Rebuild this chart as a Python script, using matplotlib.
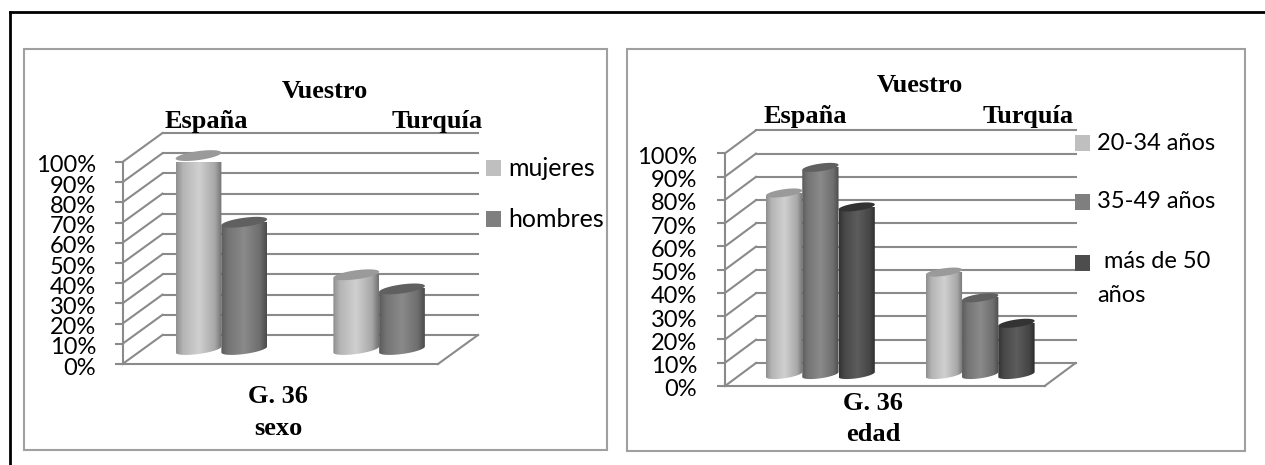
import numpy as np
import matplotlib
matplotlib.use("Agg")
from matplotlib import pyplot as plt
from matplotlib.colors import to_rgb
from matplotlib.lines import Line2D
from matplotlib.patches import Polygon, Rectangle
from matplotlib.path import Path
from matplotlib.transforms import Affine2D

W, H = 1265, 465

categories = ["España", "Turquía"]
ticks = [0, 10, 20, 30, 40, 50, 60, 70, 80, 90, 100]

sexo_labels = ["mujeres", "hombres"]
sexo_values = [[96, 37], [63, 30]]

edad_labels = ["20-34 años", "35-49 años", "más de 50 años"]
edad_values = [[78, 44], [89, 33], [72, 22]]

# body gradient (5 stops), top ellipse, legend swatch
light = (["#8f8f8f", "#b5b5b5", "#d0d0d0", "#a8a8a8", "#737373"], "#9a9a9a", "#bfbfbf")
mid = (["#5c5c5c", "#747474", "#8a8a8a", "#6e6e6e", "#4c4c4c"], "#606060", "#7f7f7f")
dark = (["#333333", "#484848", "#5c5c5c", "#454545", "#2c2c2c"], "#333333", "#4d4d4d")
stops = [0, 0.15, 0.5, 0.85, 1]

GRID = "#8a8a8a"
SERIF = "Liberation Serif"
SANS = "Lato"
BOLD = dict(family=SERIF, weight="bold", fontsize=19, ha="center", va="baseline")

fig = plt.figure(figsize=(W / 100, H / 100), dpi=100)


def px_text(x, y, s, **kw):
    fig.text(x / W, 1 - y / H, s, **kw)


def px_box(x0, y0, x1, y1, color, lw):
    fig.add_artist(Rectangle((x0 / W, 1 - y1 / H), (x1 - x0) / W, (y1 - y0) / H,
                             transform=fig.transFigure, fill=False, ec=color, lw=lw))


def cylinder(ax, x, base, w, val, ry, shear, style):
    rgb = np.array([to_rgb(c) for c in style[0]])
    t = np.linspace(0, 1, 64)
    grad = np.stack([np.interp(t, stops, rgb[:, i]) for i in range(3)], axis=-1)[np.newaxis]
    im = ax.imshow(grad, extent=(x - w / 2, x + w / 2, base - ry - abs(shear), base + val),
                   aspect="auto", zorder=4, interpolation="bilinear")
    # round bottom, flat top; the top ellipse covers the flat edge
    a = np.linspace(np.pi, 2 * np.pi, 40)
    xs = x + np.cos(a) * w / 2
    ys = base + np.sin(a) * ry + np.cos(a) * shear
    verts = list(zip(xs, ys)) + [(xs[-1], base + val + shear), (xs[0], base + val - shear), (xs[0], ys[0])]
    im.set_clip_path(Path(verts), ax.transData)
    a = np.linspace(0, 2 * np.pi, 60)
    top = np.column_stack([x + np.cos(a) * w / 2,
                           base + val + np.sin(a) * ry + np.cos(a) * shear])
    ax.add_patch(Polygon(top, fc=style[1], ec="none", zorder=5, clip_on=False))


def chart(front, depth, values, width, ry_px, shear_px, pad, styles):
    # front = left, right, y of 0%, y of 100% (pixels)
    x0, x1, y0, y100 = front
    ax = fig.add_axes([x0 / W, 1 - y0 / H, (x1 - x0) / W, (y0 - y100) / H])
    ax.patch.set_alpha(0)
    kx, ky = 2 / (x1 - x0), 100 / (y0 - y100)
    dx, dy = depth[0] * kx, depth[1] * ky

    for v in ticks:
        ax.plot([dx, 2 + dx], [v + dy, v + dy], color=GRID, lw=1.5, zorder=1, clip_on=False)
        ax.plot([0, dx], [v, v + dy], color=GRID, lw=1.5, zorder=1, clip_on=False)
    ax.plot([2, 2 + dx], [0, dy], color=GRID, lw=1.5, zorder=1, clip_on=False)

    n = len(values)
    for c in range(2):
        for s in range(n):
            x = c + 0.5 + dx / 2 + (s - (n - 1) / 2) * width
            cylinder(ax, x, dy / 2, width, values[s][c], ry_px * ky, shear_px * ky, styles[s])

    ax.set_xlim(0, 2)
    ax.set_ylim(0, 100)
    ax.set_yticks(ticks)
    ax.set_yticklabels([f"{v}%" for v in ticks], family=SANS, fontsize=17)
    ax.tick_params(axis="y", length=6, width=1.5, color=GRID, pad=pad)
    for lbl in ax.get_yticklabels():
        lbl.set_transform(lbl.get_transform() + Affine2D().translate(0, -2))
    ax.set_xticks([])
    for name in ["top", "right"]:
        ax.spines[name].set_visible(False)
    for name in ["left", "bottom"]:
        ax.spines[name].set_color(GRID)
        ax.spines[name].set_linewidth(1.5)
    return ax


def swatch(x, y, c):
    fig.add_artist(Rectangle((x / W, 1 - (y + 8) / H), 15 / W, 16 / H,
                             transform=fig.transFigure, fc=c, ec="none", zorder=6))


# page frame: top and left only
fig.add_artist(Line2D([10 / W, 1], [1 - 12 / H, 1 - 12 / H], color="black", lw=2))
fig.add_artist(Line2D([10 / W, 10 / W], [1 - 12 / H, 0], color="black", lw=2))

# left chart: sexo
px_box(24, 49, 607, 450, "#a0a0a0", 1.5)
chart((122.5, 438, 364, 162), (40, 29), sexo_values, 0.29, 4.5, 3, 13, [light, mid])
px_text(325, 98, "Vuestro", **BOLD)
px_text(206.5, 128, categories[0], **BOLD)
px_text(437, 128, categories[1], **BOLD)
px_text(278, 403, "G. 36", **BOLD)
px_text(278, 435, "sexo", **BOLD)
swatch(486, 168, light[2])
swatch(486, 219, mid[2])
px_text(508, 168, sexo_labels[0], family=SANS, fontsize=18, va="center")
px_text(508, 219, sexo_labels[1], family=SANS, fontsize=18, va="center")

# right chart: edad
px_box(627, 49, 1245, 451, "#a0a0a0", 1.5)
chart((725, 1044.6, 386, 153.3), (31, 23), edad_values, 0.227, 3.8, 2.5, 14, [light, mid, dark])
px_text(920, 92, "Vuestro", **BOLD)
px_text(805, 122.5, categories[0], **BOLD)
px_text(1028, 122.5, categories[1], **BOLD)
px_text(873, 410, "G. 36", **BOLD)
px_text(873, 440.5, "edad", **BOLD)
swatch(1075, 143, light[2])
swatch(1075, 202, mid[2])
swatch(1075, 263, dark[2])
px_text(1097, 143, edad_labels[0], family=SANS, fontsize=17, va="center")
px_text(1097, 202, edad_labels[1], family=SANS, fontsize=17, va="center")
px_text(1104, 261, "más de 50", family=SANS, fontsize=17, va="center")
px_text(1097, 295, "años", family=SANS, fontsize=17, va="center")

fig.savefig("out.png", dpi=100)
